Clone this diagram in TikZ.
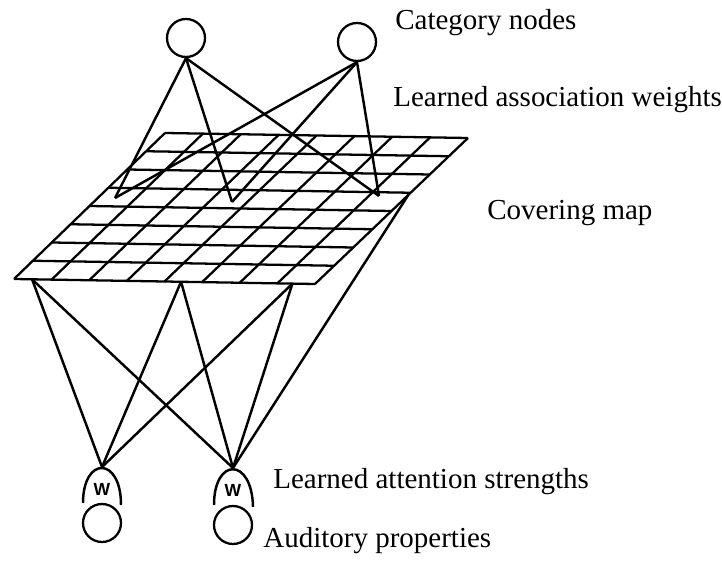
\documentclass[tikz,border=0pt]{standalone}
\usepackage{fontspec}
\setmainfont{Liberation Serif}
\setsansfont{Liberation Sans}
\usetikzlibrary{calc}

\begin{document}
\begin{tikzpicture}[
    x=0.02cm, y=-0.02cm,
    every node/.style={font=\fontsize{16.5}{19}\selectfont},
    catnode/.style={circle, draw, line width=1.3pt, minimum size=0.76cm, inner sep=0pt},
    feature/.style={circle, draw, line width=1.3pt, minimum size=0.76cm, inner sep=0pt},
    wlabel/.style={font=\sffamily\bfseries\fontsize{10}{12}\selectfont, inner sep=0pt},
    lbl/.style={anchor=base west, inner sep=0pt},
    gridline/.style={line width=1.3pt},
    link/.style={line width=1.4pt}
]
\useasboundingbox (0,0) rectangle (722,563);

% covering map
\coordinate (bl) at (14,279);
\coordinate (br) at (315,284);
\coordinate (tl) at (165,133);
\coordinate (tr) at (468,138);
\foreach \i in {0,...,8} {
  \draw[gridline] ($(bl)!\i/8!(tl)$) -- ($(br)!\i/8!(tr)$);
  \draw[gridline] ($(bl)!\i/8!(br)$) -- ($(tl)!\i/8!(tr)$);
}

% points on the map
\coordinate (m1) at (115,198);
\coordinate (m2) at (232,202);
\coordinate (m3) at (379,196);
\coordinate (b1) at ($(bl)!0.06!(br)$);
\coordinate (b2) at ($(bl)!0.555!(br)$);
\coordinate (b3) at ($(bl)!0.925!(br)$);
\coordinate (r1) at ($(br)!0.61!(tr)$);

% category nodes
\node[catnode] (c1) at (186,38) {};
\node[catnode] (c2) at (357,42) {};

% attention strengths and auditory properties
\node[wlabel] (w1) at (102,489) {W};
\node[wlabel] (w2) at (233,490) {W};
\coordinate (w1top) at (102,467);
\coordinate (w2top) at (233,468);
\draw[link] ($(w1)+(-19,14)$) .. controls ($(w1)+(-19,-33)$) and ($(w1)+(19,-33)$) .. ($(w1)+(19,16)$);
\draw[link] ($(w2)+(-19,15)$) .. controls ($(w2)+(-19,-33)$) and ($(w2)+(19,-33)$) .. ($(w2)+(20,17)$);
\node[feature] (a1) at (102,523) {};
\node[feature] (a2) at (233,525) {};

% association weights
\foreach \c in {c1,c2}
  \foreach \m in {m1,m2,m3}
    \draw[link] (\c.south) -- (\m);

% attention connections
\foreach \b in {b1,b2,b3}
  \draw[link] (w1top) -- (\b);
\foreach \b in {b1,b2,b3,r1}
  \draw[link] (w2top) -- (\b);

% labels
\node[lbl] (tcat)  at (395,30)  {Category nodes};
\node[lbl] (tassoc) at (393,107) {Learned association weights};
\node[lbl] (tmap)  at (487,220) {Covering map};
\node[lbl] (tatt)  at (273,488) {Learned attention strengths};
\node[lbl] (taud)  at (263,547) {Auditory properties};
\end{tikzpicture}
\end{document}
